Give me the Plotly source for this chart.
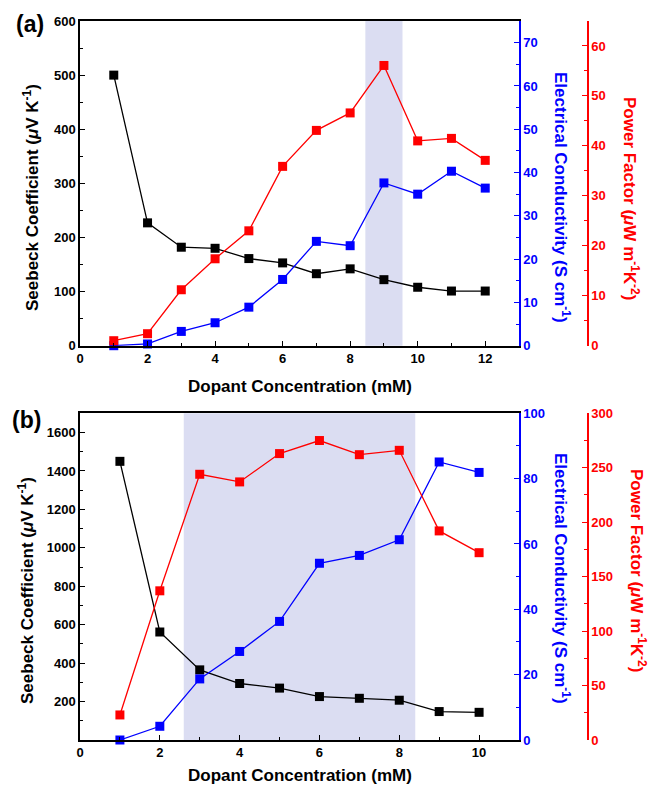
import plotly.graph_objects as go

# ---- data panel (a) ----
conc_a = [1, 2, 3, 4, 5, 6, 7, 8, 9, 10, 11, 12]
seebeck_a = [500, 227, 182, 180, 161, 153, 133, 142, 122, 108, 101, 101]
cond_a = [0.0, 0.4, 3.3, 5.3, 8.9, 15.3, 24.1, 23.1, 37.6, 35.0, 40.3, 36.4]
pf_a = [1.0, 2.4, 11.2, 17.4, 23.0, 35.9, 43.1, 46.6, 56.1, 41.0, 41.5, 37.1]
band_a = [8.45, 9.55]

# ---- data panel (b) ----
conc_b = [1, 2, 3, 4, 5, 6, 7, 8, 9, 10]
seebeck_b = [1450, 562, 365, 294, 270, 226, 217, 207, 148, 144]
cond_b = [0.0, 4.2, 18.7, 27.1, 36.3, 54.1, 56.5, 61.3, 85.1, 81.9]
pf_b = [23, 137, 244, 237, 263, 275, 262, 266, 192, 172]
band_b = [2.6, 8.4]

W, H = 649, 786
FONT = "Liberation Sans"
BLUE = "#0000ff"
RED = "#ff0000"
BLACK = "#000000"

def px(x):
    return x / W

def py(y):
    return 1 - y / H

xdom = [px(80), px(519)]
ydom_a = [py(345.7), py(21)]
ydom_b = [py(740), py(413.3)]
red_pos = px(588)

fig = go.Figure()

def add_series(x, y, color, xa, ya):
    fig.add_trace(go.Scatter(
        x=x, y=y, mode="lines+markers", xaxis=xa, yaxis=ya,
        line=dict(color=color, width=1.3),
        marker=dict(symbol="square", size=9, color=color, line=dict(width=0)),
        showlegend=False, cliponaxis=False))

add_series(conc_a, seebeck_a, BLACK, "x", "y")
add_series(conc_a, cond_a, BLUE, "x", "y2")
add_series(conc_a, pf_a, RED, "x", "y3")
add_series(conc_b, seebeck_b, BLACK, "x2", "y4")
add_series(conc_b, cond_b, BLUE, "x2", "y5")
add_series(conc_b, pf_b, RED, "x2", "y6")

tickfont = lambda c: dict(family=FONT, size=13, color=c, weight="bold")

def xaxis_cfg(rng, ydom_anchor):
    return dict(domain=xdom, range=rng, dtick=2, tick0=0,
                ticks="inside", ticklen=5, tickwidth=1.3, tickcolor=BLACK,
                minor=dict(dtick=1, ticks="inside", ticklen=3, tickwidth=1.3, tickcolor=BLACK),
                showline=True, linecolor=BLACK, linewidth=1.5, mirror=True,
                showgrid=False, zeroline=False, tickfont=tickfont(BLACK),
                fixedrange=True, automargin=False, anchor=ydom_anchor)

def yaxis_cfg(dom, rng, color, tickvals=None, dtick=None, minor_dt=None, **kw):
    d = dict(domain=dom, range=rng, ticks="inside", ticklen=5, tickwidth=1.3,
             tickcolor=color, showline=True, linecolor=color, linewidth=1.5,
             minor=dict(dtick=minor_dt, tick0=0, ticks="inside", ticklen=3,
                        tickwidth=1.3, tickcolor=color),
             showgrid=False, zeroline=False, tickfont=tickfont(color),
             automargin=False, fixedrange=True)
    if tickvals is not None:
        d["tickvals"] = tickvals
    if dtick is not None:
        d["dtick"] = dtick
        d["tick0"] = 0
    d.update(kw)
    return d

fig.update_layout(
    width=W, height=H,
    margin=dict(l=0, r=0, t=0, b=0),
    paper_bgcolor="white", plot_bgcolor="rgba(0,0,0,0)",
    xaxis=xaxis_cfg([0, 13], "y"),
    xaxis2=xaxis_cfg([0, 11], "y4"),
    yaxis=yaxis_cfg(ydom_a, [0, 600], BLACK, dtick=100, minor_dt=50, anchor="x"),
    yaxis2=yaxis_cfg(ydom_a, [0, 75], BLUE, tickvals=[0, 10, 20, 30, 40, 50, 60, 70],
                     minor_dt=5, overlaying="y", side="right", anchor="x"),
    yaxis3=yaxis_cfg(ydom_a, [0, 65], RED, dtick=10, minor_dt=5,
                     overlaying="y", side="right", anchor="free", position=red_pos),
    yaxis4=yaxis_cfg(ydom_b, [0, 1700], BLACK,
                     tickvals=[200, 400, 600, 800, 1000, 1200, 1400, 1600],
                     minor_dt=100, anchor="x2"),
    yaxis5=yaxis_cfg(ydom_b, [0, 100], BLUE, dtick=20, minor_dt=10,
                     overlaying="y4", side="right", anchor="x2"),
    yaxis6=yaxis_cfg(ydom_b, [0, 300], RED, dtick=50, minor_dt=25,
                     overlaying="y4", side="right", anchor="free", position=red_pos),
)

BAND = "rgba(200,203,235,0.65)"
fig.add_shape(type="rect", xref="x", yref="y domain", x0=band_a[0], x1=band_a[1],
              y0=0, y1=1, fillcolor=BAND, line=dict(width=0), layer="below")
fig.add_shape(type="rect", xref="x2", yref="y4 domain", x0=band_b[0], x1=band_b[1],
              y0=0, y1=1, fillcolor=BAND, line=dict(width=0), layer="below")

def ann(text, x, y, color=BLACK, size=17, angle=0):
    fig.add_annotation(text=text, x=px(x), y=py(y), xref="paper", yref="paper",
                       xanchor="center", yanchor="middle", showarrow=False,
                       textangle=angle,
                       font=dict(family=FONT, size=size, color=color, weight="bold"))

seebeck_t = "Seebeck Coefficient (<i>μ</i>V K<sup>-1</sup>)"
cond_t = "Electrical Conductivity (S cm<sup>-1</sup>)"
pf_t = "Power Factor (<i>μ</i>W m<sup>-1</sup>K<sup>-2</sup>)"
xt = "Dopant Concentration (mM)"

ann("(a)", 30, 24, size=23)
ann("(b)", 26, 420, size=23)
ann(seebeck_t, 31, 198, angle=-90)
ann(seebeck_t, 26, 591, angle=-90)
ann(cond_t, 562, 197, color=BLUE, angle=90)
ann(pf_t, 631, 198, color=RED, angle=90)
ann(cond_t, 562, 578, color=BLUE, angle=90)
ann(pf_t, 638, 570, color=RED, angle=90)
ann(xt, 300, 386)
ann(xt, 300, 775)

fig.write_html("out.html")
